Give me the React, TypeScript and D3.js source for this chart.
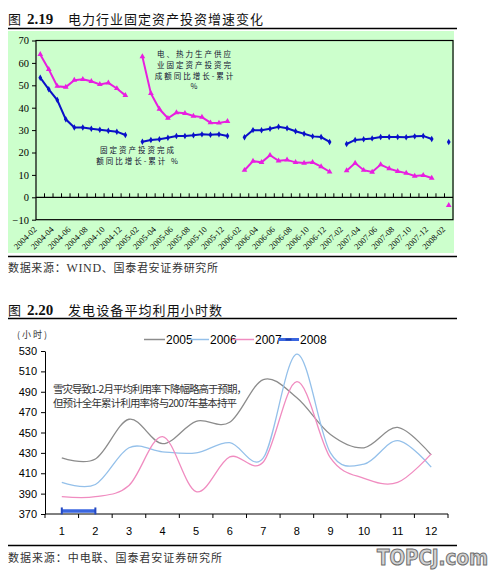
import * as d3 from 'd3';
import { useEffect, useRef } from 'react';

// 图 2.19：月份 2004-02 ~ 2008-02
const months = d3
    .timeMonth.range(new Date(2004, 1, 1), new Date(2008, 2, 1))
    .map((d) => d3.timeFormat('%Y-%m')(d));

// 固定资产投资完成额同比增长-累计 %
const investGrowth: (number | null)[] = [
    53.4, 48.2, 43.4, 34.8, 31.2, 31.2, 30.6, 30.2, 29.7, 29.3, 27.8,
    null, 24.8, 25.6, 25.9, 26.6, 27.4, 27.4, 27.7, 28.1, 27.9, 28.1, 27.4,
    null, 26.8, 30.0, 29.9, 30.6, 31.5, 30.8, 29.5, 28.4, 27.2, 26.9, 24.7,
    null, 23.8, 25.6, 25.9, 26.3, 26.9, 26.9, 26.9, 26.8, 27.2, 27.4, 26.0,
    null, 24.7,
];

// 电、热力生产供应业固定资产投资完成额同比增长-累计 %
const powerHeatGrowth: (number | null)[] = [
    63.8, 57.1, 49.6, 49.2, 52.3, 52.7, 51.8, 50.4, 51.1, 48.6, 45.5,
    null, 62.8, 46.4, 39.4, 35.3, 37.8, 37.5, 36.3, 35.8, 33.3, 33.2, 33.9,
    null, 12.1, 16.2, 15.6, 18.8, 16.3, 16.7, 15.6, 15.3, 15.6, 13.7, 11.4,
    null, 11.9, 15.3, 12.1, 11.3, 14.6, 12.8, 11.6, 10.8, 9.5, 9.8, 8.6,
    null, -3.6,
];

const ticks1 = [-10, 0, 10, 20, 30, 40, 50, 60, 70];

// 图 2.20：发电设备平均利用小时数
const monthNums = ['1', '2', '3', '4', '5', '6', '7', '8', '9', '10', '11', '12'];
const hours2005 = [425, 424, 463, 439, 461, 460, 502, 484, 448, 435, 455, 428];
const hours2006 = [401, 399, 435, 431, 430, 440, 425, 527, 430, 419, 442, 416];
const hours2007 = [387, 387, 398, 446, 392, 426, 421, 500, 425, 405, 401, 429];
const hours2008 = [373, 373];
const ticks2 = [370, 390, 410, 430, 450, 470, 490, 510, 530];

const years = ['2005', '2006', '2007', '2008'];
const colors2 = ['#8c8c8c', '#94c0ea', '#f08cc0', '#3a66e0'];

const CJK = '"Noto Sans CJK SC", sans-serif';
const SERIF = '"Liberation Serif", "Times New Roman", serif';
const NARROW = '"Liberation Sans Narrow", "Liberation Sans", Arial, sans-serif';

export default function App() {
    const ref = useRef<SVGSVGElement | null>(null);

    useEffect(() => {
        if (!ref.current) return;
        const svg = d3.select(ref.current);
        svg.selectAll('*').remove();

        // ---------- 图 2.19 ----------
        const title1 = svg.append('text').attr('y', 24).attr('fill', '#111').style('font-family', CJK);
        title1.append('tspan').attr('x', 8).style('font-size', '13px').text('图');
        title1.append('tspan').attr('x', 27).style('font-family', SERIF).style('font-weight', 'bold').style('font-size', '15px').text('2.19');
        svg.append('text')
            .attr('x', 68).attr('y', 24)
            .attr('textLength', 195)
            .style('font-family', CJK).style('font-size', '13px').attr('fill', '#111')
            .text('电力行业固定资产投资增速变化');
        svg.append('line').attr('x1', 8).attr('x2', 457).attr('y1', 28.5).attr('y2', 28.5).attr('stroke', '#000').attr('stroke-width', 1.3);

        svg.append('rect').attr('x', 8).attr('y', 31).attr('width', 446).attr('height', 222).attr('fill', '#ccffcc');

        const m1 = { left: 36, right: 453, top: 40.5, bottom: 219.7 };
        const x1 = d3.scaleBand().domain(months).range([m1.left, m1.right]);
        const y1 = d3.scaleLinear().domain([-10, 70]).range([m1.bottom, m1.top]);
        const cx1 = (m: string) => x1(m)! + x1.bandwidth() / 2;

        svg.append('rect')
            .attr('x', m1.left).attr('y', m1.top)
            .attr('width', m1.right - m1.left).attr('height', m1.bottom - m1.top)
            .attr('fill', 'none').attr('stroke', '#000').attr('stroke-width', 1.2);

        // Y 轴
        svg.append('g')
            .attr('transform', `translate(${m1.left},0)`)
            .call(d3.axisLeft(y1).tickValues(ticks1).tickSize(4).tickPadding(3))
            .call((g) => g.select('.domain').remove())
            .call((g) => g.selectAll('line').attr('stroke', '#000'))
            .selectAll('text')
            .style('font-family', SERIF).style('font-size', '10.5px').attr('fill', '#000');

        // 0 线与月份刻度
        const zero = svg.append('g').attr('transform', `translate(0,${y1(0)})`);
        zero.append('line').attr('x1', m1.left).attr('x2', m1.right).attr('stroke', '#000').attr('stroke-width', 1.2);
        zero.selectAll('line.tk')
            .data(months.slice(1))
            .join('line')
            .attr('class', 'tk')
            .attr('x1', (d) => x1(d)!).attr('x2', (d) => x1(d)!)
            .attr('y1', 0).attr('y2', -4)
            .attr('stroke', '#000');

        svg.append('g')
            .selectAll('text')
            .data(months.filter((_, i) => i % 2 === 0))
            .join('text')
            .attr('transform', (d) => `translate(${cx1(d) - 3},230) rotate(-45)`)
            .attr('text-anchor', 'end')
            .style('font-family', SERIF).style('font-size', '8.5px').attr('fill', '#000')
            .text((d) => d);

        const line1 = d3
            .line<number | null>()
            .defined((d) => d != null)
            .x((_, i) => cx1(months[i]))
            .y((d) => y1(d as number));

        const series1 = [
            { values: powerHeatGrowth, color: '#e81ee0', marker: 'tri' },
            { values: investGrowth, color: '#0a10c8', marker: 'dia' },
        ];
        series1.forEach((s) => {
            svg.append('path').attr('d', line1(s.values)!).attr('fill', 'none').attr('stroke', s.color).attr('stroke-width', 2);
            const sym = d3.symbol().type(s.marker === 'tri' ? d3.symbolTriangle : d3.symbolDiamond).size(s.marker === 'tri' ? 14 : 12);
            svg.append('g')
                .selectAll('path')
                .data(s.values.map((v, i) => ({ v, m: months[i] })).filter((d) => d.v != null))
                .join('path')
                .attr('transform', (d) => `translate(${cx1(d.m)},${y1(d.v as number)})`)
                .attr('d', sym()!)
                .attr('fill', s.color);
        });

        const note1 = ['电、热力生产供应', '业固定资产投资完', '成额同比增长-累计', '%'];
        svg.append('g')
            .selectAll('text')
            .data(note1)
            .join('text')
            .attr('x', 195).attr('y', (_, i) => 57 + i * 10.8)
            .attr('text-anchor', 'middle')
            .style('font-family', CJK).style('font-size', '7.5px').attr('fill', '#101030')
            .style('letter-spacing', '2px')
            .text((d) => d);

        const note2 = ['固定资产投资完成', '额同比增长-累计 %'];
        svg.append('g')
            .selectAll('text')
            .data(note2)
            .join('text')
            .attr('x', 138).attr('y', (_, i) => 153 + i * 10.8)
            .attr('text-anchor', 'middle')
            .style('font-family', CJK).style('font-size', '7.5px').attr('fill', '#101030')
            .style('letter-spacing', '2px')
            .text((d) => d);

        svg.append('line').attr('x1', 8).attr('x2', 457).attr('y1', 256.5).attr('y2', 256.5).attr('stroke', '#000').attr('stroke-width', 1.3);

        const src1 = svg.append('text').attr('x', 8).attr('y', 272).attr('textLength', 210).attr('fill', '#333').style('font-family', CJK).style('font-size', '11px');
        src1.append('tspan').text('数据来源：');
        src1.append('tspan').style('font-family', SERIF).style('font-size', '12px').text('WIND');
        src1.append('tspan').text('、国泰君安证券研究所');

        // ---------- 图 2.20 ----------
        const title2 = svg.append('text').attr('y', 315).attr('fill', '#111').style('font-family', CJK);
        title2.append('tspan').attr('x', 8).style('font-size', '13px').text('图');
        title2.append('tspan').attr('x', 27).style('font-family', SERIF).style('font-weight', 'bold').style('font-size', '15px').text('2.20');
        svg.append('text')
            .attr('x', 68).attr('y', 315)
            .attr('textLength', 154)
            .style('font-family', CJK).style('font-size', '13px').attr('fill', '#111')
            .text('发电设备平均利用小时数');
        svg.append('line').attr('x1', 8).attr('x2', 457).attr('y1', 318.5).attr('y2', 318.5).attr('stroke', '#000').attr('stroke-width', 1.3);

        const m2 = { left: 45, right: 448, top: 351, bottom: 514 };
        const x2 = d3.scaleBand().domain(monthNums).range([m2.left, m2.right]);
        const y2 = d3.scaleLinear().domain([370, 530]).range([m2.bottom, m2.top]);
        const cx2 = (m: string) => x2(m)! + x2.bandwidth() / 2;

        svg.append('text')
            .attr('x', 17).attr('y', 338)
            .style('font-family', CJK).style('font-size', '9px').style('letter-spacing', '2px').attr('fill', '#333')
            .text('(小时)');

        svg.append('g')
            .attr('transform', `translate(${m2.left},0)`)
            .call(d3.axisLeft(y2).tickValues(ticks2).tickSize(4).tickSizeOuter(0).tickPadding(4))
            .call((g) => g.selectAll('line, path').attr('stroke', '#000'))
            .selectAll('text')
            .style('font-family', NARROW).style('font-size', '11px').attr('fill', '#000');

        // X 轴：刻度在月份之间
        const xa = svg.append('g').attr('transform', `translate(0,${m2.bottom})`);
        xa.append('line').attr('x1', m2.left).attr('x2', m2.right).attr('stroke', '#000');
        xa.selectAll('line.tk')
            .data([...monthNums.map((m) => x2(m)!), m2.right])
            .join('line')
            .attr('class', 'tk')
            .attr('x1', (d) => d).attr('x2', (d) => d)
            .attr('y1', 0).attr('y2', 4)
            .attr('stroke', '#000');
        xa.selectAll('text')
            .data(monthNums)
            .join('text')
            .attr('x', (d) => cx2(d)).attr('y', 21)
            .attr('text-anchor', 'middle')
            .style('font-family', NARROW).style('font-size', '11px').attr('fill', '#000')
            .text((d) => d);

        const smooth = d3
            .line<number>()
            .x((_, i) => cx2(monthNums[i]))
            .y((d) => y2(d))
            .curve(d3.curveCardinal.tension(0));

        [hours2005, hours2006, hours2007].forEach((vals, k) => {
            svg.append('path').attr('d', smooth(vals)!).attr('fill', 'none').attr('stroke', colors2[k]).attr('stroke-width', 1.3);
        });

        svg.append('path')
            .attr('d', d3.line<number>().x((_, i) => cx2(monthNums[i])).y((d) => y2(d))(hours2008)!)
            .attr('fill', 'none').attr('stroke', colors2[3]).attr('stroke-width', 3.5);
        svg.append('g')
            .selectAll('rect')
            .data(hours2008)
            .join('rect')
            .attr('x', (_, i) => cx2(monthNums[i]) - 1).attr('y', (d) => y2(d) - 3.5)
            .attr('width', 2).attr('height', 7)
            .attr('fill', '#2448c0');

        // 图例
        const legendX = [144, 188, 232, 278];
        const lg = svg.append('g').attr('transform', 'translate(0,339.5)');
        years.forEach((yr, k) => {
            const w = k === 2 ? 22 : 21;
            lg.append('line')
                .attr('x1', legendX[k]).attr('x2', legendX[k] + w)
                .attr('stroke', colors2[k]).attr('stroke-width', k === 3 ? 3 : 1.5);
            if (k === 3) {
                lg.append('rect').attr('x', legendX[k] + w / 2 - 3).attr('y', -1).attr('width', 6).attr('height', 2).attr('fill', '#1a3aa8');
            }
            lg.append('text')
                .attr('x', legendX[k] + w + 1).attr('y', 4.5)
                .style('font-family', NARROW).style('font-size', '12px').attr('fill', '#000')
                .text(yr);
        });

        const note3 = ['雪灾导致1-2月平均利用率下降幅略高于预期，', '但预计全年累计利用率将与2007年基本持平'];
        const noteLen = [194, 184];
        svg.append('g')
            .selectAll('text')
            .data(note3)
            .join('text')
            .attr('x', 53).attr('y', (_, i) => 393 + i * 14)
            .attr('textLength', (_, i) => noteLen[i])
            .style('font-family', CJK).style('font-size', '10.5px').attr('fill', '#333')
            .text((d) => d);

        svg.append('line').attr('x1', 8).attr('x2', 457).attr('y1', 545.5).attr('y2', 545.5).attr('stroke', '#000').attr('stroke-width', 1.3);

        svg.append('text')
            .attr('x', 8).attr('y', 562).attr('textLength', 214)
            .style('font-family', CJK).style('font-size', '11px').attr('fill', '#333')
            .text('数据来源：中电联、国泰君安证券研究所');

        // 水印
        svg.append('text')
            .attr('x', 377).attr('y', 565).attr('textLength', 111).attr('lengthAdjust', 'spacingAndGlyphs')
            .style('font-family', '"DejaVu Sans Condensed", "DejaVu Sans", sans-serif').style('font-weight', 'bold').style('font-size', '21px')
            .attr('fill', '#d4d4d4').attr('stroke', '#6e6e6e').attr('stroke-width', 1)
            .text('TOPCJ.com');
    }, []);

    return <svg ref={ref} width={499} height={575} style={{ position: 'absolute', left: 0, top: 0, background: '#fff' }} />;
}
